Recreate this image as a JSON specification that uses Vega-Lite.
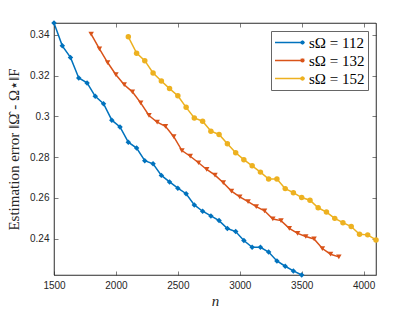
{
  "$schema": "https://vega.github.io/schema/vega-lite/v6.json",
  "width": 322,
  "height": 252,
  "autosize": "none",
  "padding": {"left": 54, "top": 23, "right": 39, "bottom": 37},
  "background": "white",
  "config": {
    "view": {"stroke": "#262626", "strokeWidth": 0.6},
    "axis": {
      "domainColor": "#262626", "domainWidth": 0.6,
      "tickColor": "#262626", "tickWidth": 0.6, "tickSize": -4,
      "labelPadding": 9, "labelFont": "Liberation Sans", "labelFontSize": 10, "labelColor": "#262626",
      "labelFlush": false, "grid": false,
      "titleFont": "Liberation Serif", "titleColor": "#262626", "titleFontWeight": "normal"
    }
  },
  "data": {"values": [
    {"n":1500,"e":0.3458,"s":"112"},{"n":1567,"e":0.3346,"s":"112"},{"n":1633,"e":0.3289,"s":"112"},{"n":1700,"e":0.3188,"s":"112"},{"n":1767,"e":0.3164,"s":"112"},{"n":1833,"e":0.3098,"s":"112"},{"n":1900,"e":0.3062,"s":"112"},{"n":1967,"e":0.2981,"s":"112"},{"n":2033,"e":0.2948,"s":"112"},{"n":2100,"e":0.2873,"s":"112"},{"n":2167,"e":0.2844,"s":"112"},{"n":2233,"e":0.2782,"s":"112"},{"n":2300,"e":0.2767,"s":"112"},{"n":2367,"e":0.2710,"s":"112"},{"n":2433,"e":0.2678,"s":"112"},{"n":2500,"e":0.2647,"s":"112"},{"n":2567,"e":0.2620,"s":"112"},{"n":2633,"e":0.2565,"s":"112"},{"n":2700,"e":0.2534,"s":"112"},{"n":2767,"e":0.2511,"s":"112"},{"n":2833,"e":0.2488,"s":"112"},{"n":2900,"e":0.2449,"s":"112"},{"n":2967,"e":0.2434,"s":"112"},{"n":3033,"e":0.2390,"s":"112"},{"n":3100,"e":0.2357,"s":"112"},{"n":3167,"e":0.2357,"s":"112"},{"n":3233,"e":0.2334,"s":"112"},{"n":3300,"e":0.2290,"s":"112"},{"n":3367,"e":0.2264,"s":"112"},{"n":3433,"e":0.2241,"s":"112"},{"n":3500,"e":0.2221,"s":"112"},
    {"n":1800,"e":0.3403,"s":"132"},{"n":1867,"e":0.3331,"s":"132"},{"n":1933,"e":0.3264,"s":"132"},{"n":2000,"e":0.3204,"s":"132"},{"n":2067,"e":0.3155,"s":"132"},{"n":2133,"e":0.3120,"s":"132"},{"n":2200,"e":0.3066,"s":"132"},{"n":2267,"e":0.3004,"s":"132"},{"n":2333,"e":0.2971,"s":"132"},{"n":2400,"e":0.2951,"s":"132"},{"n":2467,"e":0.2900,"s":"132"},{"n":2533,"e":0.2832,"s":"132"},{"n":2600,"e":0.2804,"s":"132"},{"n":2667,"e":0.2772,"s":"132"},{"n":2733,"e":0.2739,"s":"132"},{"n":2800,"e":0.2711,"s":"132"},{"n":2867,"e":0.2674,"s":"132"},{"n":2933,"e":0.2633,"s":"132"},{"n":3000,"e":0.2604,"s":"132"},{"n":3067,"e":0.2581,"s":"132"},{"n":3133,"e":0.2557,"s":"132"},{"n":3200,"e":0.2536,"s":"132"},{"n":3267,"e":0.2496,"s":"132"},{"n":3333,"e":0.2488,"s":"132"},{"n":3400,"e":0.2450,"s":"132"},{"n":3467,"e":0.2425,"s":"132"},{"n":3533,"e":0.2410,"s":"132"},{"n":3600,"e":0.2398,"s":"132"},{"n":3667,"e":0.2351,"s":"132"},{"n":3733,"e":0.2323,"s":"132"},{"n":3800,"e":0.2310,"s":"132"},
    {"n":2100,"e":0.3390,"s":"152"},{"n":2167,"e":0.3310,"s":"152"},{"n":2233,"e":0.3273,"s":"152"},{"n":2300,"e":0.3213,"s":"152"},{"n":2367,"e":0.3173,"s":"152"},{"n":2433,"e":0.3136,"s":"152"},{"n":2500,"e":0.3101,"s":"152"},{"n":2567,"e":0.3044,"s":"152"},{"n":2633,"e":0.2992,"s":"152"},{"n":2700,"e":0.2976,"s":"152"},{"n":2767,"e":0.2927,"s":"152"},{"n":2833,"e":0.2911,"s":"152"},{"n":2900,"e":0.2865,"s":"152"},{"n":2967,"e":0.2821,"s":"152"},{"n":3033,"e":0.2787,"s":"152"},{"n":3100,"e":0.2757,"s":"152"},{"n":3167,"e":0.2726,"s":"152"},{"n":3233,"e":0.2692,"s":"152"},{"n":3300,"e":0.2692,"s":"152"},{"n":3367,"e":0.2645,"s":"152"},{"n":3433,"e":0.2625,"s":"152"},{"n":3500,"e":0.2601,"s":"152"},{"n":3567,"e":0.2588,"s":"152"},{"n":3633,"e":0.2551,"s":"152"},{"n":3700,"e":0.2530,"s":"152"},{"n":3767,"e":0.2499,"s":"152"},{"n":3833,"e":0.2478,"s":"152"},{"n":3900,"e":0.2459,"s":"152"},{"n":3967,"e":0.2421,"s":"152"},{"n":4033,"e":0.2418,"s":"152"},{"n":4100,"e":0.2393,"s":"152"}
  ]},
  "layer": [
    {
      "mark": {"type": "line", "strokeWidth": 1.5},
      "encoding": {
        "x": {"field": "n", "type": "quantitative", "scale": {"domain": [1500, 4100], "nice": false, "zero": false},
              "axis": {"orient": "bottom", "values": [1500, 2000, 2500, 3000, 3500, 4000], "format": "d", "title": "n", "titleFontStyle": "italic", "titleFontSize": 15, "titlePadding": 3}},
        "y": {"field": "e", "type": "quantitative", "scale": {"domain": [0.2221, 0.3458], "nice": false, "zero": false},
              "axis": {"orient": "left", "values": [0.24, 0.26, 0.28, 0.3, 0.32, 0.34], "format": ".2~f", "title": "Estimation error ‖Ω̂  -  Ω⋆‖F", "titleFontSize": 15, "titlePadding": 8}},
        "stroke": {"field": "s", "type": "nominal",
                  "scale": {"domain": ["112", "132", "152"], "range": ["#0072BD", "#D95319", "#EDB120"]},
                  "legend": {
                    "orient": "top-right", "offset": 8, "title": null, "zindex": 0,
                    "labelExpr": "'sΩ = ' + datum.label",
                    "labelFont": "Liberation Serif", "labelFontSize": 15, "labelColor": "#000000",
                    "strokeColor": "#666666", "fillColor": "white", "padding": 3,
                    "symbolType": "stroke", "symbolSize": 841, "symbolStrokeWidth": 1.3, "labelOffset": 4, "rowPadding": 1, "clipHeight": 17
                  }}
      }
    },
    {
      "mark": {"type": "point", "filled": true, "opacity": 1, "size": 30},
      "encoding": {
        "x": {"field": "n", "type": "quantitative", "axis": {"orient": "top", "values": [1500, 2000, 2500, 3000, 3500, 4000], "labels": false, "title": null}},
        "y": {"field": "e", "type": "quantitative", "axis": {"orient": "right", "values": [0.24, 0.26, 0.28, 0.3, 0.32, 0.34], "labels": false, "title": null}},
        "fill": {"field": "s", "type": "nominal",
                 "scale": {"domain": ["112", "132", "152"], "range": ["#0072BD", "#D95319", "#EDB120"]},
                 "legend": {
                    "orient": "none", "legendX": 238, "legendY": 8, "title": null, "zindex": 1,
                    "labelExpr": "' '",
                    "labelFont": "Liberation Serif", "labelFontSize": 15, "labelOpacity": 0,
                    "padding": 3, "symbolSize": 18, "symbolStrokeWidth": 0, "labelOffset": 4, "rowPadding": 1, "clipHeight": 17
                 }},
        "shape": {"field": "s", "type": "nominal", "scale": {"domain": ["112", "132", "152"], "range": ["diamond", "triangle-down", "circle"]},
                 "legend": {
                    "orient": "none", "legendX": 238, "legendY": 8, "title": null, "zindex": 1,
                    "labelExpr": "' '",
                    "labelFont": "Liberation Serif", "labelFontSize": 15, "labelOpacity": 0,
                    "padding": 3, "symbolSize": 18, "symbolStrokeWidth": 0, "labelOffset": 4, "rowPadding": 1, "clipHeight": 17
                 }}
      }
    }
  ],
  "resolve": {"axis": {"x": "independent", "y": "independent"}}
}
